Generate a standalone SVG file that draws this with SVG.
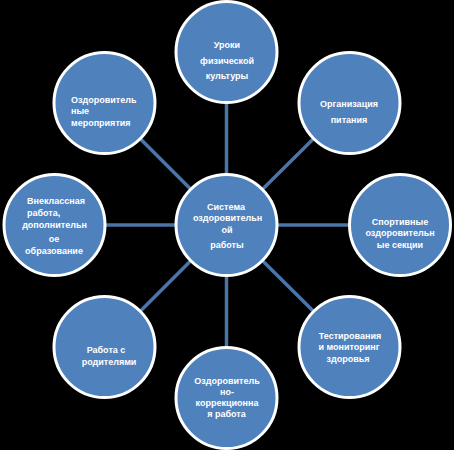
<svg xmlns="http://www.w3.org/2000/svg" width="454" height="450" viewBox="0 0 454 450">
<style>
.n{fill:#4F81BD;stroke:#FFFFFF;stroke-width:3}
.s{stroke:#4A75A9;stroke-width:3.5}
text{font-family:"Liberation Sans",Arial,sans-serif;font-weight:bold;font-size:9px;fill:#FFFFFF}
.m{text-anchor:middle}
</style>
<rect x="0" y="0" width="454" height="450" fill="#000000"/>
<g id="connectors">
<line class="s" x1="226.5" y1="225" x2="226.5" y2="52"/>
<line class="s" x1="226.5" y1="225" x2="349.5" y2="103"/>
<line class="s" x1="226.5" y1="225" x2="400" y2="225"/>
<line class="s" x1="226.5" y1="225" x2="349.5" y2="347"/>
<line class="s" x1="226.5" y1="225" x2="226.5" y2="398"/>
<line class="s" x1="226.5" y1="225" x2="104.5" y2="347"/>
<line class="s" x1="226.5" y1="225" x2="54.5" y2="225"/>
<line class="s" x1="226.5" y1="225" x2="104.5" y2="103"/>
</g>
<g id="center">
<circle class="n" cx="226.5" cy="225" r="50.5"/>
<text class="m" x="226" y="209.5">Система</text>
<text class="m" x="227.5" y="220.5">оздоровительн</text>
<text class="m" x="227" y="232.5">ой</text>
<text class="m" x="227" y="247.5">работы</text>
</g>
<g id="top">
<circle class="n" cx="226.5" cy="52" r="50.5"/>
<text class="m" x="227" y="47.5">Уроки</text>
<text class="m" x="227" y="64">физической</text>
<text class="m" x="227" y="79">культуры</text>
</g>
<g id="topright">
<circle class="n" cx="349.5" cy="103" r="50.5"/>
<text class="m" x="349" y="106.5">Организация</text>
<text class="m" x="349" y="122.5">питания</text>
</g>
<g id="right">
<circle class="n" cx="400" cy="225" r="50.5"/>
<text class="m" x="400" y="224.5">Спортивные</text>
<text class="m" x="400" y="235.5">оздоровительн</text>
<text class="m" x="400" y="247.5">ые секции</text>
</g>
<g id="bottomright">
<circle class="n" cx="349.5" cy="347" r="50.5"/>
<text class="m" x="350" y="338.5">Тестирования</text>
<text class="m" x="349" y="349.5">и мониторинг</text>
<text class="m" x="348" y="361.5">здоровья</text>
</g>
<g id="bottom">
<circle class="n" cx="226.5" cy="398" r="50.5"/>
<text class="m" x="227" y="383.5">Оздоровитель</text>
<text class="m" x="227" y="394.5">но-</text>
<text class="m" x="227" y="405.5">коррекционна</text>
<text class="m" x="226.5" y="416.5">я работа</text>
</g>
<g id="bottomleft">
<circle class="n" cx="104.5" cy="347" r="50.5"/>
<text class="m" x="106" y="352.5">Работа с</text>
<text class="m" x="109" y="364.5">родителями</text>
</g>
<g id="left">
<circle class="n" cx="54.5" cy="225" r="50.5"/>
<text x="27" y="203.5">Внеклассная</text>
<text x="27" y="215.5">работа,</text>
<text class="m" x="54.5" y="227.5">дополнительн</text>
<text class="m" x="54" y="241.5">ое</text>
<text class="m" x="54" y="253.5">образование</text>
</g>
<g id="topleft">
<circle class="n" cx="104.5" cy="103" r="50.5"/>
<text x="71" y="102.5">Оздоровитель</text>
<text x="71" y="114">ные</text>
<text x="71" y="125.5">мероприятия</text>
</g>
</svg>
